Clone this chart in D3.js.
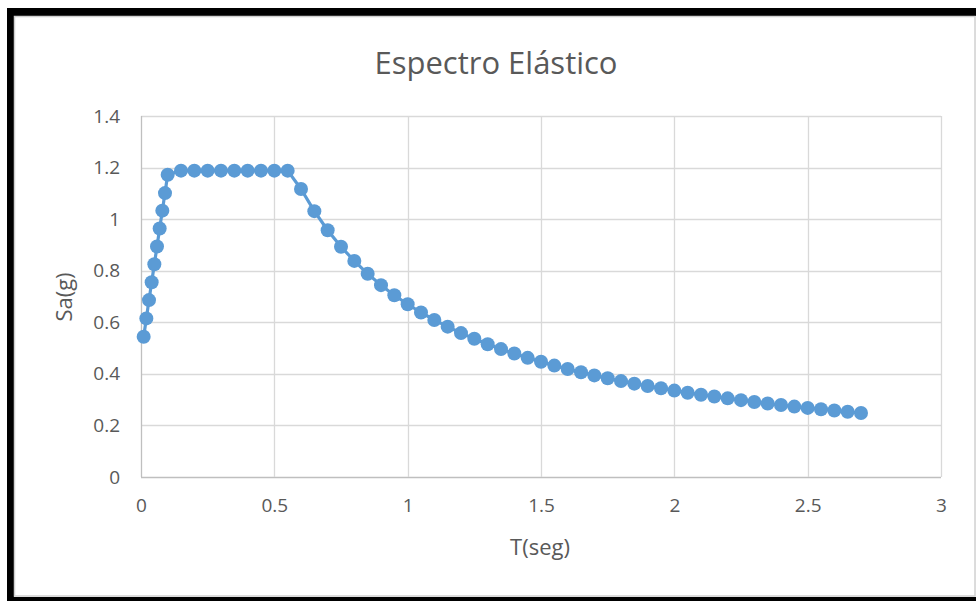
<!DOCTYPE html>
<html>
<head>
<meta charset="utf-8">
<script src="https://cdn.jsdelivr.net/npm/d3@7"></script>
<style>
  html, body { margin: 0; padding: 0; background: #fff; }
  svg { display: block; }
</style>
</head>
<body>
<svg id="chart" width="976" height="601"></svg>
<script>
// Periods T (s)
const periods = [
  0.01, 0.02, 0.03, 0.04, 0.05, 0.06, 0.07, 0.08, 0.09, 0.10,
  0.15, 0.20, 0.25, 0.30, 0.35, 0.40, 0.45, 0.50, 0.55,
  0.60, 0.65, 0.70, 0.75, 0.80, 0.85, 0.90, 0.95, 1.00,
  1.05, 1.10, 1.15, 1.20, 1.25, 1.30, 1.35, 1.40, 1.45, 1.50,
  1.55, 1.60, 1.65, 1.70, 1.75, 1.80, 1.85, 1.90, 1.95, 2.00,
  2.05, 2.10, 2.15, 2.20, 2.25, 2.30, 2.35, 2.40, 2.45, 2.50,
  2.55, 2.60, 2.65, 2.70
];
// Spectral acceleration Sa (g)
const saValues = [
  0.544, 0.615, 0.686, 0.755, 0.825, 0.894, 0.964, 1.033, 1.101, 1.172,
  1.188, 1.188, 1.188, 1.188, 1.188, 1.188, 1.188, 1.188, 1.188,
  1.117, 1.031, 0.957, 0.893, 0.838, 0.788, 0.744, 0.705, 0.670,
  0.638, 0.609, 0.583, 0.558, 0.536, 0.515, 0.496, 0.479, 0.462, 0.447,
  0.432, 0.419, 0.406, 0.394, 0.383, 0.372, 0.362, 0.353, 0.344, 0.335,
  0.327, 0.319, 0.312, 0.305, 0.298, 0.291, 0.285, 0.279, 0.273, 0.268,
  0.263, 0.258, 0.253, 0.248
];
const xTicks = [0, 0.5, 1, 1.5, 2, 2.5, 3];
const yTicks = [0, 0.2, 0.4, 0.6, 0.8, 1, 1.2, 1.4];

const chartTitle = "Espectro Elástico";
const xTitle = "T(seg)";
const yTitle = "Sa(g)";

const data = periods.map((t, i) => ({ t, sa: saValues[i] }));

const svg = d3.select("#chart");
const W = 976, H = 601;
const font = "'Open Sans', 'Segoe UI', sans-serif";
const textColor = "#595959";
const seriesColor = "#5B9BD5";

// Outer frame: black band on left/top/bottom with a thin gray inner edge
svg.append("rect").attr("x", 0).attr("y", 0).attr("width", W).attr("height", H).attr("fill", "#fff");
svg.append("rect").attr("x", 7).attr("y", 8).attr("width", W - 7).attr("height", 8).attr("fill", "#000");
svg.append("rect").attr("x", 7).attr("y", 8).attr("width", 7).attr("height", H - 8).attr("fill", "#000");
svg.append("rect").attr("x", 7).attr("y", 597).attr("width", W - 7).attr("height", 4).attr("fill", "#000");
svg.append("rect").attr("x", 14.5).attr("y", 16.5).attr("width", W - 15.5).attr("height", 579.5)
  .attr("fill", "#fff").attr("stroke", "#d0d0d0").attr("stroke-width", 1.5);

const plot = { left: 141, right: 941, top: 116, bottom: 477 };
const x = d3.scaleLinear().domain([0, 3]).range([plot.left, plot.right]);
const y = d3.scaleLinear().domain([0, 1.4]).range([plot.bottom, plot.top]);

// Gridlines
const grid = svg.append("g");
grid.selectAll("line.h").data(yTicks).join("line")
  .attr("x1", plot.left).attr("x2", plot.right)
  .attr("y1", d => Math.round(y(d)) + 0.5).attr("y2", d => Math.round(y(d)) + 0.5)
  .attr("stroke", d => d === 0 ? "#bfbfbf" : "#d9d9d9").attr("stroke-width", 1.3);
grid.selectAll("line.v").data(xTicks).join("line")
  .attr("y1", plot.top).attr("y2", plot.bottom)
  .attr("x1", d => Math.round(x(d)) + 0.5).attr("x2", d => Math.round(x(d)) + 0.5)
  .attr("stroke", d => d === 0 ? "#bfbfbf" : "#d9d9d9").attr("stroke-width", 1.3);

// Axes (labels only)
const xAxis = svg.append("g").attr("transform", `translate(0,${plot.bottom})`)
  .call(d3.axisBottom(x).tickValues(xTicks).tickSize(0).tickPadding(22).tickFormat(d3.format("")));
const yAxis = svg.append("g").attr("transform", `translate(${plot.left},0)`)
  .call(d3.axisLeft(y).tickValues(yTicks).tickSize(0).tickPadding(21).tickFormat(d3.format("")));
[xAxis, yAxis].forEach(a => {
  a.select(".domain").remove();
  a.selectAll("text").attr("fill", textColor).style("font-family", font).style("font-size", "19px");
});

// Series line and markers
svg.append("path").datum(data)
  .attr("fill", "none").attr("stroke", seriesColor).attr("stroke-width", 3.2)
  .attr("stroke-linejoin", "round")
  .attr("d", d3.line().x(d => x(d.t)).y(d => y(d.sa)));
svg.append("g").selectAll("circle").data(data).join("circle")
  .attr("cx", d => x(d.t)).attr("cy", d => y(d.sa)).attr("r", 7)
  .attr("fill", seriesColor);

// Titles
svg.append("text").attr("x", 496).attr("y", 74).attr("text-anchor", "middle")
  .attr("fill", textColor).style("font-family", font).style("font-size", "31px")
  .text(chartTitle);
svg.append("text").attr("x", 540).attr("y", 555).attr("text-anchor", "middle")
  .attr("fill", textColor).style("font-family", font).style("font-size", "22px")
  .text(xTitle);
svg.append("text").attr("transform", "translate(72,297) rotate(-90)").attr("text-anchor", "middle")
  .attr("fill", textColor).style("font-family", font).style("font-size", "22px")
  .text(yTitle);
</script>
</body>
</html>
